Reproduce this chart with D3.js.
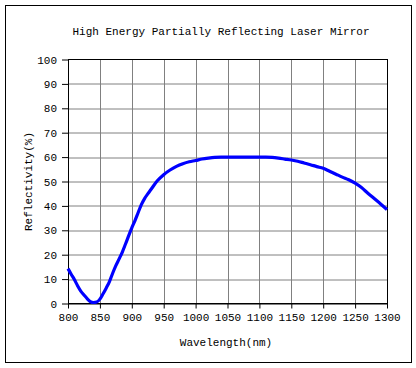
<!DOCTYPE html>
<html>
<head>
<meta charset="utf-8">
<script src="https://cdn.jsdelivr.net/npm/d3@7"></script>
<style>
  body { margin: 0; background: #fff; }
  text { font-family: "Liberation Mono", "DejaVu Sans Mono", monospace; font-size: 11px; fill: #000; }
</style>
</head>
<body>
<div id="chart"></div>
<script>

// chart data
let wavelength = [800, 805, 810, 815, 820, 825, 830, 835, 840, 845, 850, 855, 860, 865, 870, 875,
  880, 885, 890, 895, 900, 905, 910, 915, 920, 925, 930, 940, 950, 960, 970, 980, 990,
  1000, 1010, 1020, 1030, 1040, 1060, 1080, 1100, 1110, 1120, 1130, 1140, 1150, 1160,
  1170, 1180, 1190, 1200, 1210, 1220, 1230, 1240, 1250, 1260, 1270, 1280, 1290, 1300];
let reflectivity = [14.3, 12.0, 9.8, 7.3, 5.1, 3.5, 2.0, 0.8, 0.4, 0.6, 1.8, 4.0, 6.4, 9.0, 12.4, 15.5,
  18.2, 21.0, 24.3, 27.7, 31.0, 34.0, 37.3, 40.5, 43.0, 44.9, 46.7, 50.3, 52.8, 54.7, 56.2, 57.3, 58.1,
  58.6, 59.2, 59.6, 59.9, 60.0, 60.0, 60.0, 60.0, 60.0, 59.9, 59.6, 59.2, 58.8, 58.3,
  57.6, 56.9, 56.1, 55.4, 54.2, 53.0, 51.8, 50.7, 49.3, 47.5, 45.2, 43.0, 40.8, 38.5];
let xTicks = [800, 850, 900, 950, 1000, 1050, 1100, 1150, 1200, 1250, 1300];
let yTicks = [0, 10, 20, 30, 40, 50, 60, 70, 80, 90, 100];

let title = "High Energy Partially Reflecting Laser Mirror";
let xLabel = "Wavelength(nm)";
let yLabel = "Reflectivity(%)";

let W = 416, H = 368;
let margin = { top: 59.5, right: 29, bottom: 64.5, left: 68 };
let width = W - margin.left - margin.right;
let height = H - margin.top - margin.bottom;

let svg = d3.select("#chart").append("svg")
  .attr("width", W)
  .attr("height", H);

// outer frame
svg.append("rect")
  .attr("x", 5.5).attr("y", 5.5)
  .attr("width", 406).attr("height", 357)
  .attr("fill", "none").attr("stroke", "#000");

svg.append("text")
  .attr("x", 221).attr("y", 35)
  .attr("text-anchor", "middle")
  .text(title);

let g = svg.append("g")
  .attr("transform", "translate(" + margin.left + "," + margin.top + ")");

let x = d3.scaleLinear().domain([800, 1300]).range([0, width]);
let y = d3.scaleLinear().domain([0, 100]).range([height, 0]);

// grid
g.selectAll(".vgrid")
  .data(xTicks.slice(1, -1))
  .enter().append("line")
  .attr("x1", function (d) { return Math.round(x(d)) + 0.5; })
  .attr("x2", function (d) { return Math.round(x(d)) + 0.5; })
  .attr("y1", 0).attr("y2", height)
  .attr("stroke", "#808080");

g.selectAll(".hgrid")
  .data(yTicks.slice(1, -1))
  .enter().append("line")
  .attr("y1", function (d) { return Math.round(y(d)) + 0.5; })
  .attr("y2", function (d) { return Math.round(y(d)) + 0.5; })
  .attr("x1", 0).attr("x2", width)
  .attr("stroke", "#808080");

// plot border
g.append("rect")
  .attr("x", 0.5).attr("y", 0)
  .attr("width", width).attr("height", height)
  .attr("fill", "none").attr("stroke", "#000");

// axes
let xAxis = g.append("g")
  .attr("transform", "translate(0," + height + ")")
  .call(d3.axisBottom(x).tickValues(xTicks).tickFormat(d3.format("d"))
    .tickSize(5).tickPadding(5).tickSizeOuter(0));
let yAxis = g.append("g")
  .call(d3.axisLeft(y).tickValues(yTicks).tickFormat(d3.format("d"))
    .tickSize(6).tickPadding(5).tickSizeOuter(0));

[xAxis, yAxis].forEach(function (a) {
  a.select(".domain").attr("stroke", "#000");
  a.selectAll("line").attr("stroke", "#000");
  a.selectAll("text").attr("font-family", null).attr("font-size", null);
});
xAxis.selectAll("text").attr("font-size", "12px");
yAxis.selectAll("text").attr("font-size", "12px");

// curve
let points = wavelength.map(function (w, i) { return [w, reflectivity[i]]; });
let line = d3.line()
  .x(function (d) { return x(d[0]); })
  .y(function (d) { return y(d[1]); })
  .curve(d3.curveMonotoneX);

g.append("path")
  .datum(points)
  .attr("d", line)
  .attr("fill", "none")
  .attr("stroke", "#0000ff")
  .attr("stroke-width", 3.2);

// axis titles
svg.append("text")
  .attr("x", 226).attr("y", 346)
  .attr("text-anchor", "middle")
  .text(xLabel);

svg.append("text")
  .attr("transform", "translate(32," + (margin.top + height / 2) + ") rotate(-90)")
  .attr("text-anchor", "middle")
  .text(yLabel);

</script>
</body>
</html>
